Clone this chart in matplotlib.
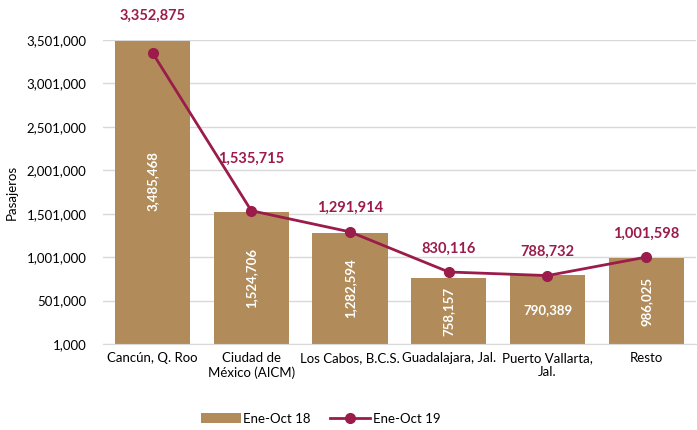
import matplotlib.pyplot as plt
import numpy as np
from matplotlib.ticker import FuncFormatter

categories = ['Cancún, Q. Roo', 'Ciudad de\nMéxico (AICM)', 'Los Cabos, B.C.S.',
              'Guadalajara, Jal.', 'Puerto Vallarta,\nJal.', 'Resto']
ene_oct_18 = [3485468, 1524706, 1282594, 758157, 790389, 986025]
ene_oct_19 = [3352875, 1535715, 1291914, 830116, 788732, 1001598]
yticks = [1000, 501000, 1001000, 1501000, 2001000, 2501000, 3001000, 3501000]

bar_color = '#B18C5A'
line_color = '#9B1B4B'

plt.rcParams['font.family'] = ['Lato', 'DejaVu Sans']

fig = plt.figure(figsize=(6.97, 4.30), dpi=100)
ax = fig.add_axes([0.148, 0.2, 0.85, 0.707])

x = np.arange(len(categories))
bars = ax.bar(x, ene_oct_18, width=0.76, color=bar_color, label='Ene-Oct 18', zorder=2)
line, = ax.plot(x, ene_oct_19, color=line_color, lw=2, marker='o', ms=7,
                label='Ene-Oct 19', zorder=3)

ax.set_xlim(-0.5, len(categories) - 0.5)
ax.set_ylim(1000, 3501000)
ax.set_yticks(yticks)
ax.yaxis.set_major_formatter(FuncFormatter(lambda v, p: f'{int(v):,}'))
ax.set_xticks(x)
ax.set_xticklabels(categories, fontsize=9.5)
ax.tick_params(axis='y', labelsize=9.5, length=0, pad=12)
ax.tick_params(axis='x', length=0, pad=6)
ax.grid(axis='y', color='#D9D9D9', lw=1, zorder=0)
for s in ['top', 'right', 'left']:
    ax.spines[s].set_visible(False)
ax.spines['bottom'].set_color('#D9D9D9')
ax.set_ylabel('Pasajeros', fontsize=9.5, labelpad=6)

# labels inside the bars
for i, v in enumerate(ene_oct_18):
    rot = 0 if i == 4 else 90
    ypos = v / 2 + 1000
    if i == 0:
        ypos = v * 0.54
    ax.text(i, ypos, f'{v:,}', color='white', fontweight='bold',
            fontsize=9.5, rotation=rot, ha='center', va='center', zorder=4)

# labels above the line points
offsets = [22, 32, 12, 12, 12, 12]
for i, v in enumerate(ene_oct_19):
    ax.annotate(f'{v:,}', (i, v), xytext=(0, offsets[i]), textcoords='offset points',
                ha='center', va='bottom', color=line_color, fontweight='bold',
                fontsize=10.5, zorder=4)

fig.legend([bars, line], ['Ene-Oct 18', 'Ene-Oct 19'], loc='lower center',
           bbox_to_anchor=(0.46, -0.015), ncol=2, frameon=False,
           fontsize=9.5, handlelength=3, columnspacing=1.5, handletextpad=0.2)

fig.savefig('out.png', dpi=100)
